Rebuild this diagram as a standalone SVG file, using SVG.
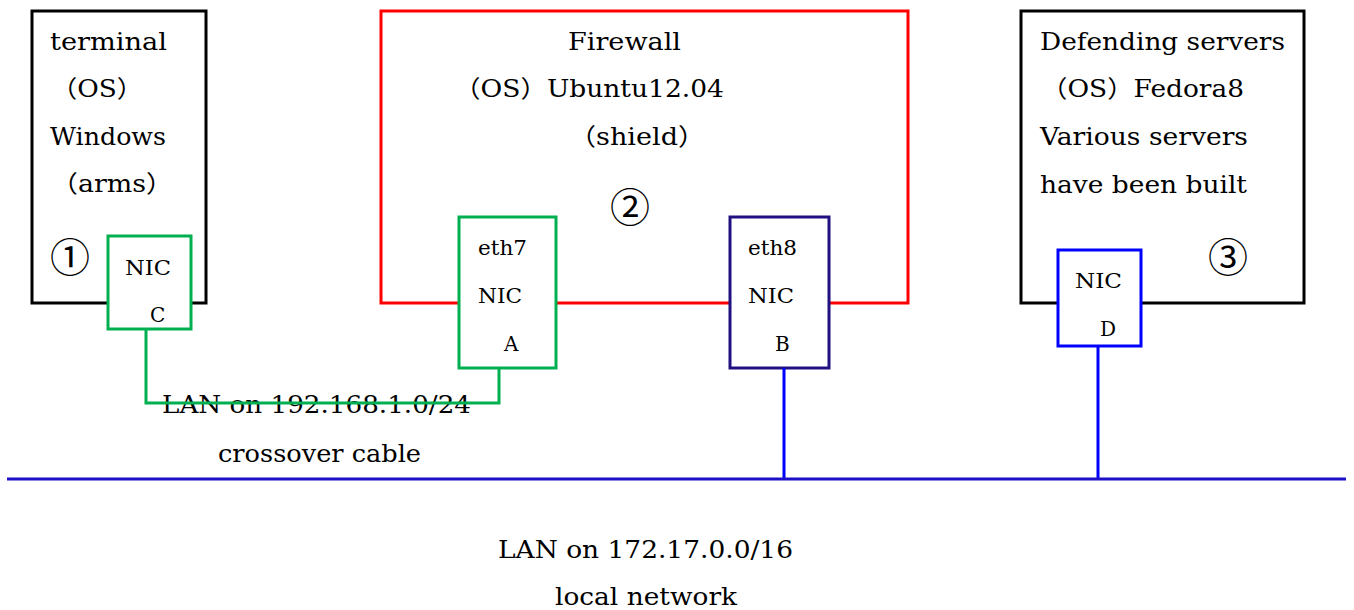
<svg xmlns="http://www.w3.org/2000/svg" width="1354" height="610" viewBox="0 0 1354 610">
<style>
text{font-family:"DejaVu Serif","Noto Sans CJK JP",serif;fill:#000}
.t{font-size:24px}
.s{font-size:20px}
.c{font-family:"Noto Sans CJK JP",sans-serif;font-size:40px}
.b{font-size:25px}
.box{fill:#fff;stroke-width:3}
.ln{fill:none;stroke-width:3}
</style>
<rect width="1354" height="610" fill="#fff"/>
<g id="labels">
<text class="b" x="162" y="413" textLength="309" lengthAdjust="spacingAndGlyphs">LAN on 192.168.1.0/24</text>
<text class="b" x="218" y="462" textLength="203" lengthAdjust="spacingAndGlyphs">crossover cable</text>
<text class="b" x="498" y="558" textLength="295" lengthAdjust="spacingAndGlyphs">LAN on 172.17.0.0/16</text>
<text class="b" x="555" y="605" textLength="182" lengthAdjust="spacingAndGlyphs">local network</text>
</g>
<g id="terminal">
<rect class="box" x="32" y="11" width="174" height="292" stroke="#000"/>
<text class="t" x="50" y="50" textLength="117" lengthAdjust="spacingAndGlyphs">terminal</text>
<text class="t" x="51" y="97" textLength="92" lengthAdjust="spacingAndGlyphs">（OS）</text>
<text class="t" x="50" y="145" textLength="116" lengthAdjust="spacingAndGlyphs">Windows</text>
<text class="t" x="51" y="192" textLength="122" lengthAdjust="spacingAndGlyphs">（arms）</text>
<text class="c" x="50" y="272">①</text>
</g>
<g id="nic-c">
<rect class="box" x="108" y="236" width="83" height="93" stroke="#00B050"/>
<text class="s" x="125" y="275" textLength="46" lengthAdjust="spacingAndGlyphs">NIC</text>
<text class="s" x="150" y="322">C</text>
</g>
<g id="firewall">
<rect class="box" x="381" y="11" width="527" height="292" stroke="#FF0000"/>
<text class="t" x="568" y="50" textLength="113" lengthAdjust="spacingAndGlyphs">Firewall</text>
<text class="t" x="454" y="97" textLength="270" lengthAdjust="spacingAndGlyphs">（OS）Ubuntu12.04</text>
<text class="t" x="569" y="145" textLength="136" lengthAdjust="spacingAndGlyphs">（shield）</text>
<text class="c" x="610" y="222">②</text>
</g>
<g id="eth7">
<rect class="box" x="459" y="217" width="97" height="151" stroke="#00B050"/>
<text class="s" x="478" y="255" textLength="49" lengthAdjust="spacingAndGlyphs">eth7</text>
<text class="s" x="478" y="303" textLength="44" lengthAdjust="spacingAndGlyphs">NIC</text>
<text class="s" x="504" y="351">A</text>
</g>
<g id="eth8">
<rect class="box" x="730" y="217" width="99" height="151" stroke="#201080"/>
<text class="s" x="748" y="255" textLength="49" lengthAdjust="spacingAndGlyphs">eth8</text>
<text class="s" x="748" y="303" textLength="46" lengthAdjust="spacingAndGlyphs">NIC</text>
<text class="s" x="775" y="351">B</text>
</g>
<g id="servers">
<rect class="box" x="1021" y="11" width="283" height="292" stroke="#000"/>
<text class="t" x="1040" y="50" textLength="245" lengthAdjust="spacingAndGlyphs">Defending servers</text>
<text class="t" x="1041" y="97" textLength="203" lengthAdjust="spacingAndGlyphs">（OS）Fedora8</text>
<text class="t" x="1040" y="145" textLength="208" lengthAdjust="spacingAndGlyphs">Various servers</text>
<text class="t" x="1040" y="193" textLength="207" lengthAdjust="spacingAndGlyphs">have been built</text>
<text class="c" x="1208" y="272">③</text>
</g>
<g id="nic-d">
<rect class="box" x="1058" y="250" width="83" height="96" stroke="#0000FF"/>
<text class="s" x="1075" y="288" textLength="47" lengthAdjust="spacingAndGlyphs">NIC</text>
<text class="s" x="1100" y="336">D</text>
</g>
<g id="connectors">
<polyline class="ln" stroke="#00B050" points="146,329 146,403 499,403 499,368"/>
<line class="ln" stroke="#0000FF" x1="784" y1="368" x2="784" y2="479"/>
<line class="ln" stroke="#0000FF" x1="1098" y1="346" x2="1098" y2="479"/>
<line class="ln" stroke="#1C10C8" x1="7" y1="479" x2="1346" y2="479"/>
</g>
</svg>
